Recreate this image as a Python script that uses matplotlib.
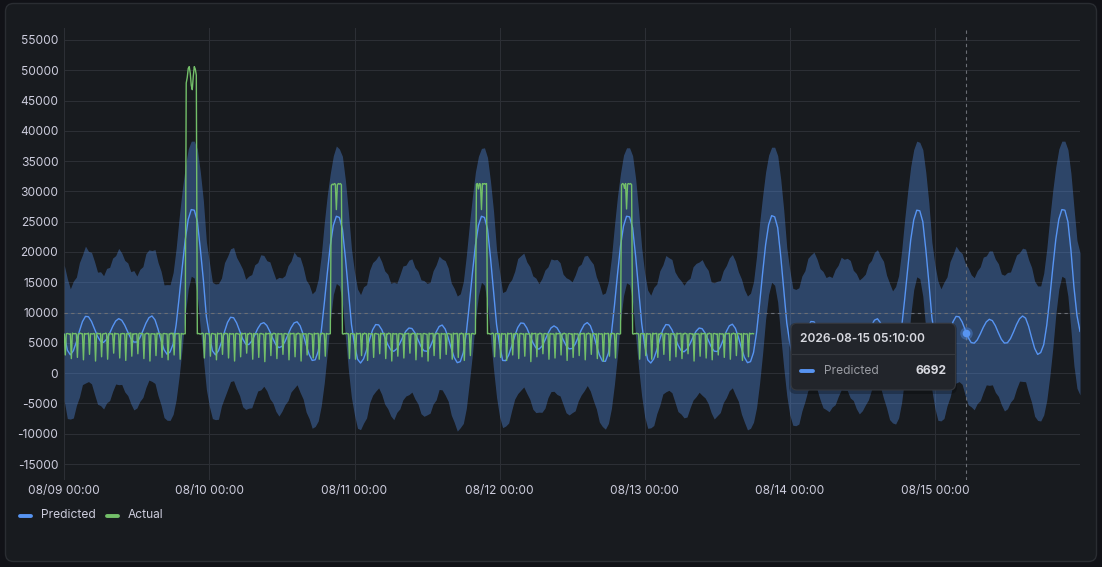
import numpy as np
import pandas as pd
import matplotlib
matplotlib.use("Agg")
import matplotlib.pyplot as plt
from matplotlib.patches import FancyBboxPatch
from matplotlib.lines import Line2D

plt.rcParams['font.family'] = ['Inter', 'DejaVu Sans']

# ---------------- data ----------------
# Predicted, every 30 minutes, one list per day (08/09 .. 08/15, last one includes 08/16 00:00)
pred_0809 = [6400, 3800, 3020, 3700, 5160, 6940, 8505, 9370, 9310, 8530, 7315, 6075,
             5240, 5080, 5590, 6570, 7700, 8610, 8995, 8735, 7910, 6795, 5755, 5130,
             5140, 5835, 6995, 8240, 9155, 9440, 8800, 7290, 5435, 3870, 3120, 3500,
             4800, 8000, 12500, 17400, 22000, 25400, 27000, 26900, 25100, 20500, 15400, 9300]
pred_0810 = [6300, 3700, 3020, 3690, 5110, 6850, 8380, 9220, 9150, 8300, 6980, 5660,
             4810, 4715, 5280, 6285, 7360, 8140, 8335, 7865, 6870, 5680, 4685, 4215,
             4415, 5205, 6350, 7495, 8285, 8480, 7830, 6435, 4680, 3085, 2100, 2200,
             3600, 6900, 11500, 16500, 21100, 24400, 25900, 25700, 23800, 19000, 13500, 8000]
pred_0811 = [4800, 2300, 1670, 2355, 3810, 5590, 7155, 8020, 7965, 7195, 5980, 4725,
             3840, 3610, 4025, 4905, 5985, 6930, 7450, 7370, 6645, 5525, 4405, 3680,
             3615, 4295, 5490, 6780, 7705, 7940, 7270, 5850, 4105, 2575, 1730, 1900,
             3400, 6700, 11400, 16500, 21100, 24400, 25900, 25700, 23800, 19000, 13500, 8000]
pred_0812 = [4700, 2100, 2060, 2970, 4455, 6120, 7520, 8280, 8220, 7465, 6280, 5050,
             4185, 3960, 4435, 5415, 6555, 7460, 7800, 7480, 6640, 5540, 4555, 4000,
             4075, 4780, 5905, 7105, 8015, 8350, 7850, 6495, 4710, 3035, 1985, 1950,
             3300, 6600, 11200, 16300, 21000, 24300, 25900, 25800, 24000, 19300, 13800, 8200]
pred_0813 = [4600, 2200, 1670, 2355, 3810, 5590, 7155, 8020, 7960, 7170, 5930, 4660,
             3760, 3520, 3960, 4860, 5960, 6920, 7450, 7340, 6600, 5480, 4360, 3630,
             3570, 4290, 5530, 6870, 7820, 8080, 7390, 5930, 4150, 2590, 1730, 1900,
             3400, 6700, 11400, 16500, 21200, 24500, 26000, 25800, 24000, 19300, 13800, 8300]
pred_0814 = [5000, 2600, 2220, 2900, 4340, 6110, 7660, 8520, 8470, 7725, 6560, 5380,
             4580, 4430, 4890, 5785, 6815, 7640, 7995, 7760, 7010, 5990, 5045, 4475,
             4500, 5250, 6495, 7810, 8745, 8980, 8300, 6860, 5090, 3540, 2680, 2900,
             4300, 7600, 12200, 17200, 22000, 25300, 26900, 26800, 25000, 20400, 15000, 9200]
pred_0815 = [6000, 3500, 2920, 3615, 5090, 6900, 8490, 9370, 9300, 8465, 7175, 5885,
             5050, 4950, 5485, 6455, 7560, 8465, 8890, 8670, 7830, 6660, 5575, 4960,
             5020, 5705, 6805, 8015, 8985, 9435, 9080, 7725, 5840, 4085, 3095, 3400,
             4700, 7900, 12400, 17400, 22100, 25400, 27000, 26900, 25000, 20300, 14200, 9500, 6900]

# Confidence band: distance above / below the prediction, every 30 minutes
gap_hi_0809 = [11400, 11800, 10900, 11500, 10700, 11300, 11000, 11600, 10800, 11400, 11100, 10600,
               11500, 11000, 11700, 10900, 11300, 10800, 11600, 11100, 10700, 11400, 11000, 11800,
               10900, 11300, 10600, 11500, 11200, 10800, 11600, 11000, 11400, 10700, 11500, 11100,
               11800, 12600, 13200, 12800, 12000, 11600, 11300, 11400, 11900, 12700, 13100, 12400]
gap_hi_0810 = [12000, 11300, 11700, 11100, 10600, 11400, 10900, 11300, 11600, 10800, 11200, 11500,
               10700, 11300, 11000, 11600, 10900, 11400, 11100, 10700, 11500, 11200, 10800, 11600,
               11300, 10900, 11400, 11000, 11700, 10800, 11300, 11100, 10700, 11500, 11000, 11400,
               11900, 12500, 13300, 12900, 11900, 11500, 11600, 11300, 12000, 12800, 13000, 12500]
gap_hi_0811 = [11900, 11600, 11300, 11900, 10800, 11400, 11100, 10700, 11500, 11200, 10900, 11600,
               11000, 11400, 10800, 11300, 11700, 10900, 11200, 11500, 10800, 11300, 11000, 11600,
               11200, 10700, 11400, 11100, 11600, 10900, 11300, 11500, 10800, 11400, 11000, 11200,
               11700, 12700, 13100, 12600, 12100, 11400, 11200, 11500, 11800, 12600, 13200, 12300]
gap_hi_0812 = [12000, 11200, 11500, 11800, 11000, 10700, 11400, 11100, 11600, 10900, 11300, 11000,
               11500, 10800, 11200, 11600, 11000, 11400, 10900, 11300, 11600, 10800, 11200, 11500,
               11000, 11400, 11700, 10900, 11300, 11100, 10800, 11500, 11200, 11600, 11000, 11300,
               11800, 12500, 13200, 12900, 12000, 11700, 11300, 11400, 11900, 12800, 13000, 12500]
gap_hi_0813 = [11900, 11500, 11200, 11800, 10900, 11300, 10700, 11400, 11100, 11600, 10800, 11200,
               11500, 11000, 11300, 10800, 11600, 11200, 10900, 11400, 11100, 11500, 10700, 11300,
               11600, 11000, 11400, 10900, 11200, 11500, 11100, 10800, 11400, 11200, 11000, 11300,
               11700, 12600, 13300, 12700, 12000, 11500, 11300, 11500, 11900, 12700, 13100, 12400]
gap_hi_0814 = [12000, 11400, 11600, 11200, 11700, 10800, 11300, 11000, 11500, 11100, 10700, 11400,
               11200, 11600, 10900, 11300, 11000, 11500, 10800, 11200, 11600, 11000, 11400, 10900,
               11300, 11100, 11500, 10800, 11200, 11400, 11000, 11600, 11100, 11300, 10900, 11400,
               11800, 12600, 13200, 12800, 12100, 11600, 11400, 11300, 11900, 12700, 13100, 12400]
gap_hi_0815 = [11900, 11700, 11000, 11400, 10800, 11500, 11100, 11600, 10900, 11300, 11000, 11500,
               11200, 10800, 11400, 11100, 11600, 10900, 11300, 11500, 11000, 11400, 10800, 11200,
               11600, 11000, 11300, 11500, 10900, 11200, 11400, 11000, 11600, 11100, 11300, 11000,
               11800, 12600, 13200, 12800, 12000, 11600, 11300, 11400, 11900, 12700, 13100, 12400, 13000]

gap_lo_0809 = [11000, 11300, 10600, 11100, 10500, 10900, 10400, 11000, 10700, 10300, 10800, 11200,
               10600, 11000, 10500, 11100, 10700, 10400, 10900, 10600, 11000, 10500, 10800, 11200,
               10900, 10500, 11000, 10600, 10300, 10800, 10500, 11000, 10700, 11200, 10900, 11300,
               11600, 12400, 13000, 13300, 12400, 11500, 11000, 11200, 12300, 13200, 13000, 12000]
gap_lo_0810 = [11800, 11200, 10700, 11300, 10500, 10900, 11100, 10600, 10400, 10900, 10700, 11200,
               10800, 10500, 11000, 10600, 10300, 10900, 10500, 10800, 11100, 10600, 11000, 11300,
               10700, 10400, 10900, 10600, 10800, 10400, 11000, 10700, 11100, 10600, 11200, 11000,
               11500, 12300, 13100, 13200, 12500, 11400, 11100, 11300, 12200, 13100, 13100, 12100]
gap_lo_0811 = [11700, 11400, 11000, 10600, 11200, 10500, 10800, 11000, 10400, 10700, 11100, 10600,
               10900, 11300, 10500, 10800, 10400, 10700, 11000, 10500, 10900, 10600, 11100, 10800,
               10500, 10900, 10600, 11200, 10400, 10700, 10900, 10500, 11000, 10700, 11300, 10900,
               11700, 12500, 12900, 13400, 12300, 11600, 10900, 11200, 12400, 13300, 12900, 12000]
gap_lo_0812 = [11900, 11100, 10800, 11200, 10600, 10400, 10900, 11100, 10500, 10800, 10600, 11000,
               10700, 10400, 10900, 11200, 10600, 10500, 10800, 11000, 10400, 10700, 11100, 10900,
               10600, 11000, 10500, 10700, 10900, 10400, 10800, 11000, 10600, 11100, 10800, 11200,
               11600, 12400, 13000, 13300, 12400, 11500, 11000, 11200, 12300, 13200, 13000, 12000]
gap_lo_0813 = [11800, 11300, 10700, 11000, 10500, 10900, 10600, 11100, 10800, 10400, 10700, 11000,
               10500, 10900, 11200, 10600, 10400, 10800, 10600, 11000, 10700, 10500, 10900, 11200,
               10600, 10800, 10400, 10900, 10700, 10500, 11000, 10600, 10900, 10700, 11100, 11000,
               11500, 12400, 13100, 13300, 12300, 11500, 11000, 11300, 12300, 13200, 12900, 12000]
gap_lo_0814 = [11900, 11200, 10900, 11300, 10600, 10800, 10500, 11000, 10700, 10400, 10900, 11100,
               10600, 10800, 10500, 11000, 10700, 10400, 10800, 10600, 11100, 10500, 10900, 11200,
               10700, 10500, 10900, 10600, 10400, 10800, 10600, 11000, 10800, 11200, 10900, 11300,
               11700, 12400, 13000, 13300, 12400, 11500, 11000, 11200, 12300, 13200, 13000, 12000]
gap_lo_0815 = [11800, 11300, 10800, 11100, 10500, 10900, 10400, 11000, 10700, 10300, 10800, 11100,
               10600, 11000, 10500, 11000, 10700, 10400, 10900, 10600, 11000, 10500, 10800, 11200,
               10900, 10500, 11000, 10600, 10300, 10800, 10500, 11000, 10700, 11200, 10900, 11300,
               11600, 12400, 13000, 13300, 12400, 11500, 11000, 11200, 12300, 13200, 13000, 12000, 10500]

# Actual, every 10 minutes, one row per hour
actual_0809 = [
    [6400, 3000, 6500, 6550, 6500, 6450], [6500, 2400, 6600, 6500, 6500, 6550],
    [6450, 2600, 6500, 6500, 6600, 6500], [6500, 2200, 6550, 6450, 6500, 6500],
    [6600, 3100, 6500, 6500, 6450, 6550], [6500, 2000, 6500, 6600, 6500, 6500],
    [6550, 2700, 6450, 6500, 6500, 6600], [6500, 2300, 6500, 6550, 6500, 6450],
    [6500, 3300, 6600, 6500, 6500, 6500], [6450, 2500, 6500, 6500, 6550, 6500],
    [6500, 2100, 6550, 6500, 6450, 6600], [6600, 2800, 6500, 6450, 6500, 6500],
    [6500, 3200, 6500, 6600, 6500, 6550], [6500, 2400, 6450, 6500, 6600, 6500],
    [6550, 2000, 6500, 6500, 6500, 6450], [6500, 2900, 6600, 6500, 6550, 6500],
    [6450, 2600, 6500, 6550, 6500, 6500], [6500, 2200, 6500, 6450, 6600, 6500],
    [6600, 3000, 6500, 6500, 6500, 6550], [6500, 2300, 6550, 6500, 6450, 6500],
    [6500, 47900, 48800, 50300, 50600, 49500], [47500, 46800, 49000, 50600, 50200, 49200],
    [6500, 6550, 6500, 6450, 6500, 6600], [6500, 2500, 6500, 6550, 6500, 6500]]
actual_0810 = [
    [6500, 2800, 6500, 6550, 6500, 6450], [6450, 2200, 6600, 6500, 6500, 6550],
    [6550, 3100, 6500, 6450, 6600, 6500], [6500, 2500, 6550, 6500, 6450, 6500],
    [6500, 2000, 6500, 6550, 6500, 6450], [6450, 2700, 6600, 6500, 6500, 6550],
    [6550, 3300, 6500, 6450, 6600, 6500], [6500, 2300, 6550, 6500, 6450, 6500],
    [6500, 2600, 6500, 6550, 6500, 6450], [6450, 1900, 6600, 6500, 6500, 6550],
    [6550, 2900, 6500, 6450, 6600, 6500], [6500, 2400, 6550, 6500, 6450, 6500],
    [6500, 3100, 6500, 6550, 6500, 6450], [6450, 2200, 6600, 6500, 6500, 6550],
    [6550, 2700, 6500, 6450, 6600, 6500], [6500, 2000, 6550, 6500, 6450, 6500],
    [6500, 3000, 6500, 6550, 6500, 6450], [6450, 2500, 6600, 6500, 6500, 6550],
    [6550, 2300, 6500, 6450, 6600, 6500], [6500, 2800, 6550, 6500, 6450, 6500],
    [6500, 31000, 31200, 31100, 31300, 31200], [27000, 31100, 31300, 31200, 31300, 31100],
    [6500, 6450, 6550, 6500, 6600, 6500], [6500, 2400, 6500, 6550, 6500, 6450]]
actual_0811 = [
    [6450, 2300, 6600, 6500, 6500, 6550], [6550, 2900, 6500, 6450, 6600, 6500],
    [6500, 2100, 6550, 6500, 6450, 6500], [6500, 2600, 6500, 6550, 6500, 6450],
    [6450, 3200, 6600, 6500, 6500, 6550], [6550, 2400, 6500, 6450, 6600, 6500],
    [6500, 2000, 6550, 6500, 6450, 6500], [6500, 2800, 6500, 6550, 6500, 6450],
    [6450, 2500, 6600, 6500, 6500, 6550], [6550, 3300, 6500, 6450, 6600, 6500],
    [6500, 2200, 6550, 6500, 6450, 6500], [6500, 2700, 6500, 6550, 6500, 6450],
    [6450, 2000, 6600, 6500, 6500, 6550], [6550, 2900, 6500, 6450, 6600, 6500],
    [6500, 2400, 6550, 6500, 6450, 6500], [6500, 3100, 6500, 6550, 6500, 6450],
    [6450, 2300, 6600, 6500, 6500, 6550], [6550, 2600, 6500, 6450, 6600, 6500],
    [6500, 2100, 6550, 6500, 6450, 6500], [6500, 2900, 6500, 6550, 6500, 6450],
    [6500, 31200, 31300, 30400, 31300, 31200], [27000, 31300, 31200, 31300, 31200, 31300],
    [6500, 6550, 6500, 6450, 6500, 6600], [6500, 2700, 6500, 6550, 6500, 6500]]
actual_0812 = [
    [6500, 2600, 6550, 6500, 6450, 6500], [6450, 2100, 6600, 6500, 6500, 6550],
    [6550, 3000, 6500, 6450, 6600, 6500], [6500, 2400, 6500, 6550, 6500, 6450],
    [6500, 2800, 6550, 6500, 6450, 6500], [6450, 1900, 6600, 6500, 6500, 6550],
    [6550, 2700, 6500, 6450, 6600, 6500], [6500, 3200, 6500, 6550, 6500, 6450],
    [6500, 2300, 6550, 6500, 6450, 6500], [6450, 2500, 6600, 6500, 6500, 6550],
    [6550, 3000, 6500, 6450, 6600, 6500], [6500, 2100, 6500, 6550, 6500, 6450],
    [6500, 2600, 6550, 6500, 6450, 6500], [6450, 2900, 6600, 6500, 6500, 6550],
    [6550, 2200, 6500, 6450, 6600, 6500], [6500, 3100, 6500, 6550, 6500, 6450],
    [6500, 2400, 6550, 6500, 6450, 6500], [6450, 2000, 6600, 6500, 6500, 6550],
    [6550, 2800, 6500, 6450, 6600, 6500], [6500, 2500, 6500, 6550, 6500, 6450],
    [6500, 31100, 31300, 31200, 30500, 31300], [27100, 31200, 31300, 31200, 31300, 31100],
    [6500, 6450, 6550, 6500, 6600, 6500], [6500, 2300, 6500, 6550, 6500, 6450]]
actual_0813 = [
    [6500, 2900, 6550, 6500, 6450, 6500], [6450, 2300, 6600, 6500, 6500, 6550],
    [6550, 2600, 6500, 6450, 6600, 6500], [6500, 3100, 6500, 6550, 6500, 6450],
    [6500, 2100, 6550, 6500, 6450, 6500], [6450, 2700, 6600, 6500, 6500, 6550],
    [6550, 2400, 6500, 6450, 6600, 6500], [6500, 3200, 6500, 6550, 6500, 6450],
    [6500, 2000, 6550, 6500, 6450, 6500], [6450, 2800, 6600, 6500, 6500, 6550],
    [6550, 2500, 6500, 6450, 6600, 6500], [6500, 2200, 6500, 6550, 6500, 6450],
    [6500, 3000, 6550, 6500, 6450, 6500], [6450, 2600, 6600, 6500, 6500, 6550],
    [6550, 2300, 6500, 6450, 6600, 6500], [6500, 2900, 6500, 6550, 6500, 6450],
    [6500, 2100, 6550, 6500, 6450, 6500], [6450, 2700, 6600, 6500, 6500, 6550],
    [6500]]

series_names = ['Predicted', 'Actual']
x_tick_days = ['2026-08-09', '2026-08-10', '2026-08-11', '2026-08-12',
               '2026-08-13', '2026-08-14', '2026-08-15']
x_tick_labels = ['08/09 00:00', '08/10 00:00', '08/11 00:00', '08/12 00:00',
                 '08/13 00:00', '08/14 00:00', '08/15 00:00']
y_ticks = [-15000, -10000, -5000, 0, 5000, 10000, 15000, 20000, 25000,
           30000, 35000, 40000, 45000, 50000, 55000]
cursor_y = 10000
hover_time = '2026-08-15 05:10:00'
hover_value = 6692

# ---------------- assemble ----------------
pred = np.array(pred_0809 + pred_0810 + pred_0811 + pred_0812 + pred_0813 + pred_0814 + pred_0815, float)
gap_hi = np.array(gap_hi_0809 + gap_hi_0810 + gap_hi_0811 + gap_hi_0812 + gap_hi_0813 + gap_hi_0814 + gap_hi_0815, float)
gap_lo = np.array(gap_lo_0809 + gap_lo_0810 + gap_lo_0811 + gap_lo_0812 + gap_lo_0813 + gap_lo_0814 + gap_lo_0815, float)
t30 = pd.date_range('2026-08-09 00:00', periods=len(pred), freq='30min')
actual = np.array([v for day in (actual_0809, actual_0810, actual_0811, actual_0812, actual_0813)
                   for row in day for v in row], float)
t10 = pd.date_range('2026-08-09 00:00', periods=len(actual), freq='10min')

# ---------------- style ----------------
W, H = 1102, 567
BLUE = '#5794f2'
GREEN = '#73bf69'
TXT = '#ccccdc'
FS = 8.64  # 12 px

fig = plt.figure(figsize=(W / 100, H / 100), dpi=100, facecolor='#111217')

bg = fig.add_axes([0, 0, 1, 1])
bg.set_xlim(0, W); bg.set_ylim(H, 0); bg.axis('off'); bg.set_zorder(0)
bg.add_patch(FancyBboxPatch((5.5, 3.5), 1091, 558, boxstyle='round,pad=0,rounding_size=8',
                            fc='#181b1f', ec='#2a2d32', lw=1))

x0, x1, y0, y1 = 64.3, 1080.0, 28.3, 480.0
ax = fig.add_axes([x0 / W, 1 - y1 / H, (x1 - x0) / W, (y1 - y0) / H])
ax.set_zorder(1)
ax.patch.set_alpha(0)

ax.fill_between(t30, pred - gap_lo, pred + gap_hi, color=BLUE, alpha=0.35, lw=0, zorder=2)
ax.plot(t30, pred, color=BLUE, lw=1.0, zorder=3, label=series_names[0])
ax.plot(t10, actual, color=GREEN, lw=1.0, zorder=4, label=series_names[1])

ht = pd.Timestamp(hover_time)
ax.axvline(ht, color='#6b6e75', lw=0.8, dashes=(3, 3), zorder=5)
ax.axhline(cursor_y, color='#6b6e75', lw=0.8, dashes=(3, 3), zorder=5)
ax.plot([ht], [hover_value], 'o', ms=9, color=BLUE, alpha=0.35, mec='none', zorder=6)
ax.plot([ht], [hover_value], 'o', ms=5.5, color=BLUE, mec='none', zorder=7)

ax.set_xlim(pd.Timestamp('2026-08-09 00:00'), pd.Timestamp('2026-08-16 00:00'))
ax.set_ylim(-17640, 56930)
ax.set_xticks(pd.to_datetime(x_tick_days))
ax.set_xticklabels(x_tick_labels)
ax.set_yticks(y_ticks)
ax.set_yticklabels([str(v) for v in y_ticks])
ax.tick_params(length=0, labelsize=FS, labelcolor=TXT)
ax.tick_params(axis='y', pad=4.3)
ax.tick_params(axis='x', pad=3.5)
for s in ax.spines.values():
    s.set_visible(False)
ax.grid(True, color='#2c2f35', lw=0.75, zorder=1)
ax.set_axisbelow(True)

# ---------------- overlay: legend & tooltip ----------------
ov = fig.add_axes([0, 0, 1, 1])
ov.set_xlim(0, W); ov.set_ylim(H, 0); ov.axis('off'); ov.set_zorder(3)
ov.patch.set_alpha(0)

ov.add_line(Line2D([19.5, 30.5], [515.5, 515.5], color=BLUE, lw=2.8, solid_capstyle='round'))
ov.text(40.5, 515.5, series_names[0], color=TXT, fontsize=FS, va='center', ha='left')
ov.add_line(Line2D([106.5, 117.5], [515.5, 515.5], color=GREEN, lw=2.8, solid_capstyle='round'))
ov.text(127.5, 515.5, series_names[1], color=TXT, fontsize=FS, va='center', ha='left')

# tooltip
ov.add_patch(FancyBboxPatch((789, 323), 168, 71, boxstyle='round,pad=0,rounding_size=7',
                            fc='black', ec='none', alpha=0.25))
ov.add_patch(FancyBboxPatch((791, 323.3), 164.5, 66.7, boxstyle='round,pad=0,rounding_size=6',
                            fc='#22252b', ec='#35383e', lw=0.8))
ov.add_line(Line2D([791.5, 955], [354.3, 354.3], color='#35383e', lw=0.8))
ov.text(800, 339.5, hover_time, color='#d8d9e0', fontsize=FS, fontweight='semibold',
        va='center', ha='left')
ov.add_line(Line2D([800.5, 812.5], [371.2, 371.2], color=BLUE, lw=2.8, solid_capstyle='round'))
ov.text(824, 371.2, series_names[0], color='#9a9ca3', fontsize=FS, va='center', ha='left')
ov.text(946.7, 371.2, str(hover_value), color='#d8d9e0', fontsize=FS, fontweight='bold',
        va='center', ha='right')

fig.savefig('out.png', dpi=100, facecolor=fig.get_facecolor())
